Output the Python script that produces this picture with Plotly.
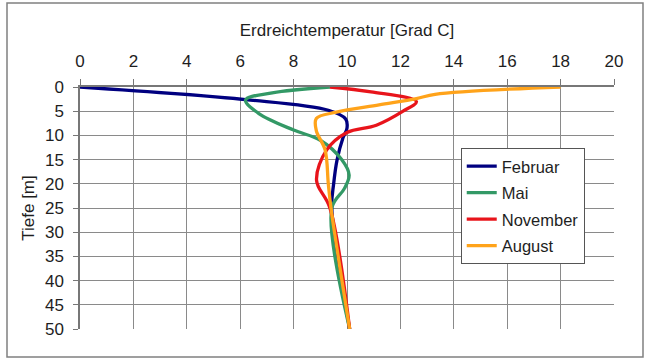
import plotly.graph_objects as go

# Depth [m] and temperature [Grad C] per series
feb_depth = [0, 2.6, 4.8, 6.6, 8.5, 10.5, 15, 20, 25, 50]
feb_temp = [0, 6.2, 9.3, 9.95, 10.0, 9.85, 9.63, 9.5, 9.43, 10.1]

mai_depth = [0, 1.2, 2.7, 5.5, 8.9, 11, 15, 18.2, 21, 25, 50]
mai_temp = [9.36, 7.2, 6.2, 6.7, 8.0, 9.0, 9.8, 10.08, 9.9, 9.43, 10.1]

nov_depth = [0, 1.0, 3.0, 5.0, 7.9, 9.4, 13, 19.3, 25, 50]
nov_temp = [9.36, 10.9, 12.6, 12.1, 11.1, 10.0, 9.24, 8.86, 9.36, 10.1]

aug_depth = [0, 1.5, 2.4, 3.7, 5.2, 6.5, 9.0, 13, 20, 25, 50]
aug_temp = [18, 13.3, 12.6, 11.2, 9.6, 8.85, 8.85, 9.18, 9.3, 9.4, 10.1]

series_names = ["Februar", "Mai", "November", "August"]
series_colors = ["#000080", "#339966", "#e8141b", "#ffa31a"]
series_temps = [feb_temp, mai_temp, nov_temp, aug_temp]
series_depths = [feb_depth, mai_depth, nov_depth, aug_depth]

x_ticks = list(range(0, 21, 2))
y_ticks = list(range(0, 51, 5))

FONT = "Liberation Sans, Arial, sans-serif"
TXT = "#1e1e1e"

fig = go.Figure()
for name, t, d, c in zip(series_names, series_temps, series_depths, series_colors):
    fig.add_trace(go.Scatter(
        x=t, y=d, mode="lines", name=name, legendgroup=name,
        line=dict(color=c, width=3.3, shape="spline", smoothing=1.0),
    ))

fig.update_layout(
    width=650, height=362,
    margin=dict(l=80, r=36, t=87, b=33),
    paper_bgcolor="white", plot_bgcolor="white",
    font=dict(family=FONT, size=17, color=TXT),
    showlegend=True,
    legend=dict(
        x=0.713, y=0.748, xanchor="left", yanchor="top",
        bgcolor="white", bordercolor="#555555", borderwidth=1,
        font=dict(family=FONT, size=16.5, color=TXT),
        traceorder="grouped", tracegroupgap=2,
    ),
    xaxis=dict(
        side="top", range=[0, 20], tickvals=x_ticks,
        showgrid=True, gridcolor="#8a8a8a", gridwidth=1,
        showline=True, linecolor="#777777", linewidth=1.5,
        ticks="outside", ticklen=6, tickcolor="#777777",
        ticklabelstandoff=5,
        tickfont=dict(size=17, color=TXT),
        title=dict(text="Erdreichtemperatur [Grad C]", font=dict(size=17, color=TXT), standoff=12),
        zeroline=False,
    ),
    yaxis=dict(
        range=[50, 0], tickvals=y_ticks,
        showgrid=True, gridcolor="#8a8a8a", gridwidth=1,
        showline=True, linecolor="#777777", linewidth=1.5,
        ticks="outside", ticklen=5, tickcolor="#777777",
        ticklabelstandoff=6,
        tickfont=dict(size=17, color=TXT),
        title=dict(text="Tiefe [m]", font=dict(size=17, color=TXT), standoff=6),
        zeroline=False,
    ),
    shapes=[dict(
        type="rect", xref="paper", yref="paper",
        x0=-0.1367, x1=1.0543, y0=-0.1157, y1=1.347,
        line=dict(color="#808080", width=1.5), fillcolor="rgba(0,0,0,0)",
    )],
)

fig.write_html("out.html", config={"displayModeBar": False},
               post_script="document.body.style.margin='0px';")
